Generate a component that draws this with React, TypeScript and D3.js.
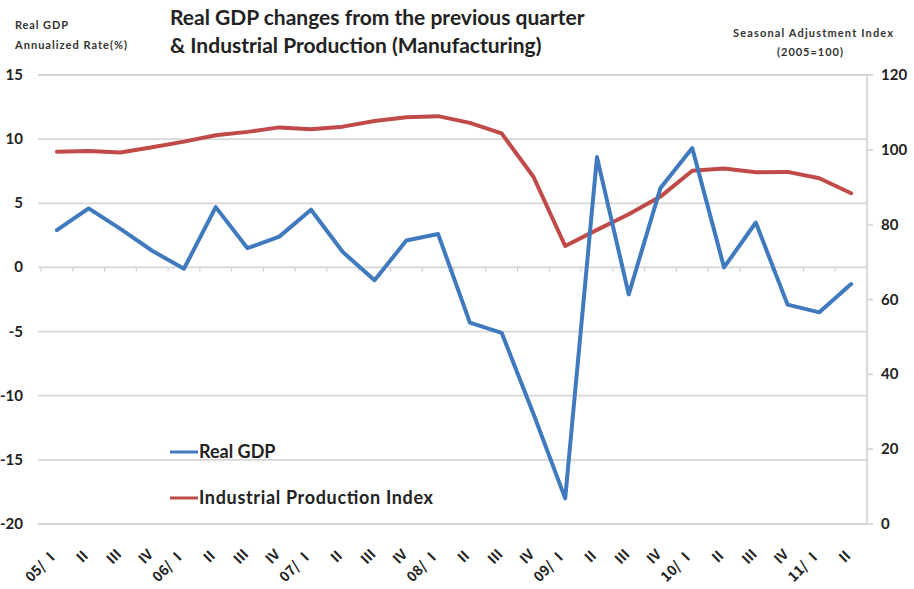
import React from "react";
import * as d3 from "d3";

const categories = [
  "05/ Ⅰ", "Ⅱ", "Ⅲ", "Ⅳ",
  "06/ Ⅰ", "Ⅱ", "Ⅲ", "Ⅳ",
  "07/ Ⅰ", "Ⅱ", "Ⅲ", "Ⅳ",
  "08/ Ⅰ", "Ⅱ", "Ⅲ", "Ⅳ",
  "09/ Ⅰ", "Ⅱ", "Ⅲ", "Ⅳ",
  "10/ Ⅰ", "Ⅱ", "Ⅲ", "Ⅳ",
  "11/ Ⅰ", "Ⅱ",
];

const realGDP = [
  2.9, 4.6, 3.0, 1.3, -0.1, 4.7, 1.5, 2.4, 4.5, 1.2, -1.0, 2.1, 2.6,
  -4.3, -5.1, -11.4, -18.0, 8.6, -2.1, 6.2, 9.3, 0.0, 3.5, -2.9, -3.5, -1.3,
];

const industrialIndex = [
  99.5, 99.7, 99.3, 100.7, 102.2, 103.9, 104.8, 106.0, 105.5, 106.2, 107.7, 108.7, 109.0,
  107.2, 104.4, 92.8, 74.3, 78.6, 82.8, 87.5, 94.4, 95.0, 94.0, 94.1, 92.4, 88.4,
];

const leftTicks = [15, 10, 5, 0, -5, -10, -15, -20];
const rightTicks = [120, 100, 80, 60, 40, 20, 0];

const W = 914;
const H = 589;
const L = 41;
const R = 867;
const T = 75;
const B = 524;
const FONT = "Lato, 'Open Sans', sans-serif";
const CJK = "'Noto Sans CJK JP', 'Noto Sans', sans-serif";

export default function App() {
  const x = d3.scaleBand<number>().domain(d3.range(categories.length)).range([L, R]);
  const cx = (i: number) => (x(i) as number) + x.bandwidth() / 2;
  const yL = d3.scaleLinear().domain([-20, 15]).range([B, T]);
  const yR = d3.scaleLinear().domain([0, 120]).range([B, T]);

  const gdpLine = d3.line<number>().x((_, i) => cx(i)).y((d) => yL(d));
  const ipLine = d3.line<number>().x((_, i) => cx(i)).y((d) => yR(d));

  const blue = "#3f79be";
  const red = "#bf4a47";
  const y0 = yL(0);
  const grid = "#d6d6d6";

  return (
    <svg width={W} height={H} style={{ position: "absolute", left: 0, top: 0, background: "#fff" }}>
      {/* gridlines */}
      {leftTicks.map((t) => (
        <line key={"g" + t} x1={L - 3} x2={R} y1={yL(t)} y2={yL(t)} stroke={grid} strokeWidth={1.8} />
      ))}
      {leftTicks.map((t) => (
        <text key={"lt" + t} x={23} y={yL(t) + 5} textAnchor="end" fontFamily={FONT} fontWeight={700} fontSize={15} fill="#222">
          {t}
        </text>
      ))}
      {/* right axis */}
      <line x1={R} x2={R} y1={T} y2={B} stroke={grid} strokeWidth={1.8} />
      {rightTicks.map((t) => (
        <g key={"rt" + t}>
          <line x1={R} x2={R + 6} y1={yR(t)} y2={yR(t)} stroke={grid} strokeWidth={1.8} />
          <text x={881} y={yR(t) + 5} textAnchor="start" fontFamily={FONT} fontWeight={700} fontSize={15} fill="#222">
            {t}
          </text>
        </g>
      ))}
      {/* category axis tick marks on zero line */}
      {categories.map((_, i) => (
        <line key={"xt" + i} x1={x(i) as number} x2={x(i) as number} y1={y0} y2={y0 + 4} stroke="#c8c8c8" strokeWidth={1} />
      ))}
      {/* category labels */}
      {categories.map((c, i) => (
        <text
          key={"xl" + i}
          transform={`translate(${cx(i) + 2},${555}) rotate(-45)`}
          textAnchor="end"
          fontFamily={CJK}
          fontWeight={700}
          fontSize={14}
          fill="#222"
        >
          {c}
        </text>
      ))}
      {/* lines */}
      <path d={ipLine(industrialIndex) as string} fill="none" stroke={red} strokeWidth={4} strokeLinejoin="round" strokeLinecap="round" />
      <path d={gdpLine(realGDP) as string} fill="none" stroke={blue} strokeWidth={4} strokeLinejoin="round" strokeLinecap="round" />
      {/* titles */}
      <text x={170} y={25} fontFamily={FONT} fontWeight={700} fontSize={21} fill="#222">
        Real GDP changes from the previous quarter
      </text>
      <text x={170} y={53} fontFamily={FONT} fontWeight={700} fontSize={21} fill="#222">
        &amp; Industrial Production (Manufacturing)
      </text>
      <text x={15} y={29} fontFamily={FONT} fontWeight={700} fontSize={11} fill="#333" textLength={53} lengthAdjust="spacing">
        Real GDP
      </text>
      <text x={15} y={49} fontFamily={FONT} fontWeight={700} fontSize={11} fill="#333" textLength={112} lengthAdjust="spacing">
        Annualized Rate(%)
      </text>
      <text x={813} y={37} textAnchor="middle" fontFamily={FONT} fontWeight={700} fontSize={11} fill="#333" textLength={160} lengthAdjust="spacing">
        Seasonal Adjustment Index
      </text>
      <text x={810} y={56} textAnchor="middle" fontFamily={FONT} fontWeight={700} fontSize={11} fill="#333" textLength={66} lengthAdjust="spacing">
        (2005=100)
      </text>
      {/* legend */}
      <line x1={170} x2={198} y1={452} y2={452} stroke={blue} strokeWidth={3} />
      <text x={199} y={458} fontFamily={FONT} fontWeight={700} fontSize={18} fill="#222">
        Real GDP
      </text>
      <line x1={170} x2={198} y1={498} y2={498} stroke={red} strokeWidth={3} />
      <text x={199} y={504} fontFamily={FONT} fontWeight={700} fontSize={18} fill="#222" textLength={234} lengthAdjust="spacing">
        Industrial Production Index
      </text>
    </svg>
  );
}
